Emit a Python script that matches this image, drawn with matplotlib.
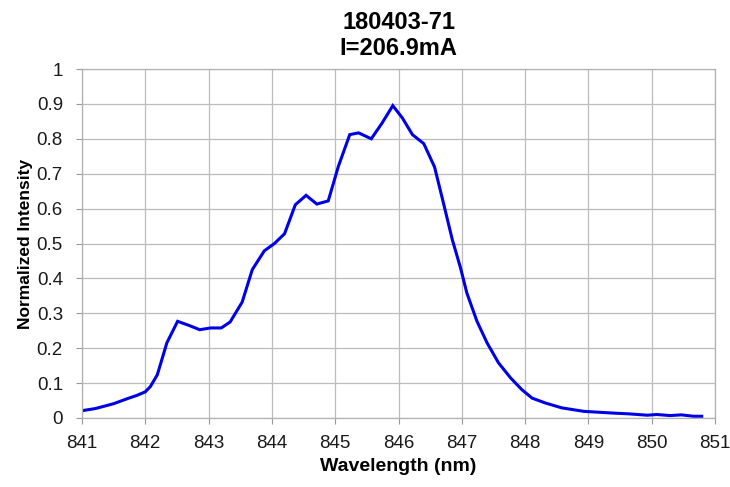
import matplotlib
matplotlib.use("Agg")
import matplotlib.pyplot as plt
import numpy as np

plt.rcParams['font.family'] = ['Liberation Sans', 'DejaVu Sans']

wavelength = [841.00, 841.21, 841.50, 841.71, 841.87, 842.00, 842.08, 842.19, 842.34, 842.51,
              842.68, 842.86, 843.03, 843.20, 843.34, 843.53, 843.69, 843.88, 844.04, 844.20,
              844.37, 844.54, 844.71, 844.89, 845.05, 845.23, 845.37, 845.57, 845.74, 845.91,
              846.06, 846.22, 846.40, 846.57, 846.71, 846.85, 846.98, 847.08, 847.24, 847.40,
              847.58, 847.77, 847.95, 848.11, 848.32, 848.58, 848.93, 849.40, 849.63, 849.93,
              850.08, 850.29, 850.47, 850.66, 850.79]
intensity = [0.021, 0.027, 0.041, 0.055, 0.065, 0.075, 0.090, 0.124, 0.215, 0.277,
             0.266, 0.253, 0.258, 0.258, 0.275, 0.332, 0.425, 0.479, 0.500, 0.528,
             0.611, 0.638, 0.613, 0.622, 0.721, 0.812, 0.817, 0.800, 0.845, 0.895,
             0.860, 0.812, 0.786, 0.719, 0.616, 0.511, 0.430, 0.358, 0.277, 0.215,
             0.158, 0.115, 0.081, 0.057, 0.043, 0.029, 0.019, 0.014, 0.012, 0.008,
             0.010, 0.007, 0.009, 0.005, 0.005]

title = "180403-71\nI=206.9mA"
xlabel = "Wavelength (nm)"
ylabel = "Normalized Intensity"
xticks = list(range(841, 852))
yticks = [0, 0.1, 0.2, 0.3, 0.4, 0.5, 0.6, 0.7, 0.8, 0.9, 1]
ytick_labels = ["0", "0.1", "0.2", "0.3", "0.4", "0.5", "0.6", "0.7", "0.8", "0.9", "1"]

fig = plt.figure(figsize=(7.30, 4.87), dpi=100)
ax = fig.add_axes([82/730, 1-418/487, (715-82)/730, (418-69)/487])

ax.plot(wavelength, intensity, color='#0000E6', lw=2.2, solid_joinstyle='miter')

ax.set_xlim(841, 851)
ax.set_ylim(0, 1)
ax.set_xticks(xticks)
ax.set_xticklabels([str(t) for t in xticks])
ax.set_yticks(yticks)
ax.set_yticklabels(ytick_labels)
ax.grid(True, color='#bcbcbc', lw=0.9)
ax.set_axisbelow(True)
for s in ax.spines.values():
    s.set_color('#b0b0b0')
    s.set_linewidth(0.9)
ax.tick_params(axis='both', labelsize=13.5, length=4.3, color='#999999', labelcolor='#1a1a1a')
ax.tick_params(axis='y', pad=9.4)
ax.tick_params(axis='x', pad=8)

ax.set_title(title, fontsize=17, fontweight='bold', pad=10, linespacing=1.2)
ax.set_xlabel(xlabel, fontsize=14, fontweight='bold', labelpad=4.5)
ax.set_ylabel(ylabel, fontsize=12.5, fontweight='bold', labelpad=3)

fig.savefig("out.png", dpi=100)
